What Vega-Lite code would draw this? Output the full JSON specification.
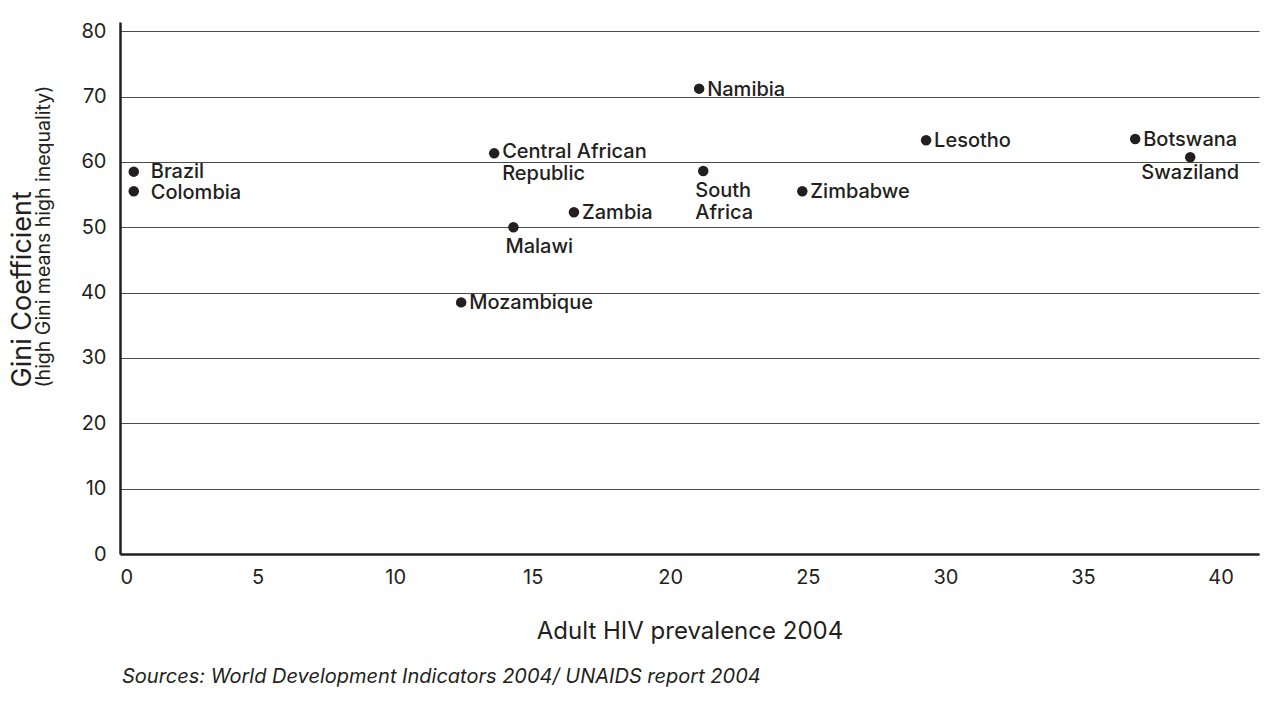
{
  "$schema": "https://vega.github.io/schema/vega-lite/v6.json",
  "width": 1139,
  "height": 532,
  "autosize": {"type": "none"},
  "padding": {"left": 120, "top": 22, "right": 12, "bottom": 161},
  "background": "white",
  "config": {"view": {"stroke": null}, "font": "Inter"},
  "title": {
    "text": "Sources: World Development Indicators 2004/ UNAIDS report 2004",
    "orient": "bottom",
    "anchor": "start",
    "frame": "group",
    "font": "Inter",
    "fontSize": 20,
    "fontStyle": "italic",
    "fontWeight": "normal",
    "color": "#231f20",
    "offset": 24,
    "dx": 2
  },
  "data": {
    "values": [
      {"country": "Brazil", "label": "Brazil", "hiv": 0.5, "gini": 58.5},
      {"country": "Colombia", "label": "Colombia", "hiv": 0.5, "gini": 55.5},
      {"country": "Central African Republic", "label": "Central African\nRepublic", "hiv": 13.6, "gini": 61.3},
      {"country": "Namibia", "label": "Namibia", "hiv": 21.05, "gini": 71.2},
      {"country": "South Africa", "label": "South\nAfrica", "hiv": 21.2, "gini": 58.6},
      {"country": "Zambia", "label": "Zambia", "hiv": 16.5, "gini": 52.3},
      {"country": "Malawi", "label": "Malawi", "hiv": 14.3, "gini": 50.0},
      {"country": "Mozambique", "label": "Mozambique", "hiv": 12.4, "gini": 38.5},
      {"country": "Zimbabwe", "label": "Zimbabwe", "hiv": 24.8, "gini": 55.5},
      {"country": "Lesotho", "label": "Lesotho", "hiv": 29.3, "gini": 63.3},
      {"country": "Botswana", "label": "Botswana", "hiv": 36.9, "gini": 63.5},
      {"country": "Swaziland", "label": "Swaziland", "hiv": 38.9, "gini": 60.7}
    ]
  },
  "resolve": {"axis": {"y": "independent"}},
  "layer": [
    {
      "mark": {"type": "circle", "size": 110, "opacity": 1, "color": "#231f20"},
      "encoding": {
        "x": {
          "field": "hiv", "type": "quantitative",
          "scale": {"domain": [0, 41.4], "nice": false, "zero": false},
          "axis": {
            "values": [0, 5, 10, 15, 20, 25, 30, 35, 40],
            "title": "Adult HIV prevalence 2004",
            "grid": false, "ticks": false,
            "domainColor": "#231f20", "domainWidth": 2.5,
            "labelFont": "Inter", "labelFontSize": 20, "labelColor": "#231f20", "labelPadding": 13,
            "titleFont": "Inter", "titleFontSize": 24, "titleFontWeight": "normal", "titleColor": "#231f20", "titlePadding": 32
          }
        },
        "y": {
          "field": "gini", "type": "quantitative",
          "scale": {"domain": [0, 81.4], "nice": false, "zero": false},
          "axis": {
            "orient": "left",
            "values": [0, 10, 20, 30, 40, 50, 60, 70, 80],
            "title": "(high Gini means high inequality)",
            "grid": true, "gridColor": "#4d4d4d", "gridWidth": 1,
            "ticks": false,
            "domainColor": "#231f20", "domainWidth": 2.5,
            "labelFont": "Inter", "labelFontSize": 20, "labelColor": "#231f20", "labelPadding": 14,
            "titleFont": "Inter", "titleFontSize": 19.5, "titleFontWeight": "normal", "titleColor": "#231f20",
            "titleAngle": -90, "titleAlign": "left", "titleBaseline": "middle",
            "titleX": -77, "titleY": 365
          }
        }
      }
    },
    {
      "transform": [{"filter": {"field": "country", "oneOf": ["Namibia", "Zambia", "Mozambique", "Zimbabwe", "Lesotho", "Botswana"]}}],
      "mark": {"type": "text", "align": "left", "baseline": "middle", "dx": 8, "dy": 1, "font": "Inter", "fontSize": 20, "fontWeight": 500, "color": "#231f20"},
      "encoding": {
        "x": {"field": "hiv", "type": "quantitative"},
        "y": {
          "field": "gini", "type": "quantitative",
          "axis": {
            "orient": "left",
            "title": "Gini Coefficient",
            "labels": false, "domain": false, "ticks": false, "grid": false,
            "titleFont": "Inter", "titleFontSize": 27, "titleFontWeight": "normal", "titleColor": "#231f20",
            "titleAngle": -90, "titleAlign": "left", "titleBaseline": "middle",
            "titleX": -98, "titleY": 365
          }
        },
        "text": {"field": "label"}
      }
    },
    {
      "transform": [{"filter": {"field": "country", "oneOf": ["Brazil"]}}],
      "mark": {"type": "text", "align": "left", "baseline": "middle", "dx": 17, "dy": 0, "font": "Inter", "fontSize": 20, "fontWeight": 500, "color": "#231f20"},
      "encoding": {
        "x": {"field": "hiv", "type": "quantitative"},
        "y": {"field": "gini", "type": "quantitative", "axis": null},
        "text": {"field": "label"}
      }
    },
    {
      "transform": [{"filter": {"field": "country", "oneOf": ["Colombia"]}}],
      "mark": {"type": "text", "align": "left", "baseline": "middle", "dx": 17, "dy": 2, "font": "Inter", "fontSize": 20, "fontWeight": 500, "color": "#231f20"},
      "encoding": {
        "x": {"field": "hiv", "type": "quantitative"},
        "y": {"field": "gini", "type": "quantitative", "axis": null},
        "text": {"field": "label"}
      }
    },
    {
      "transform": [{"filter": {"field": "country", "oneOf": ["Central African Republic"]}}],
      "mark": {"type": "text", "align": "left", "baseline": "top", "dx": 8, "dy": -11, "lineBreak": "\n", "lineHeight": 22, "font": "Inter", "fontSize": 20, "fontWeight": 500, "color": "#231f20"},
      "encoding": {
        "x": {"field": "hiv", "type": "quantitative"},
        "y": {"field": "gini", "type": "quantitative", "axis": null},
        "text": {"field": "label"}
      }
    },
    {
      "transform": [{"filter": {"field": "country", "oneOf": ["South Africa", "Malawi"]}}],
      "mark": {"type": "text", "align": "left", "baseline": "top", "dx": -8, "dy": 10, "lineBreak": "\n", "lineHeight": 22, "font": "Inter", "fontSize": 20, "fontWeight": 500, "color": "#231f20"},
      "encoding": {
        "x": {"field": "hiv", "type": "quantitative"},
        "y": {"field": "gini", "type": "quantitative", "axis": null},
        "text": {"field": "label"}
      }
    },
    {
      "transform": [{"filter": {"field": "country", "oneOf": ["Swaziland"]}}],
      "mark": {"type": "text", "align": "center", "baseline": "top", "dy": 6, "font": "Inter", "fontSize": 20, "fontWeight": 500, "color": "#231f20"},
      "encoding": {
        "x": {"field": "hiv", "type": "quantitative"},
        "y": {"field": "gini", "type": "quantitative", "axis": null},
        "text": {"field": "label"}
      }
    }
  ]
}
